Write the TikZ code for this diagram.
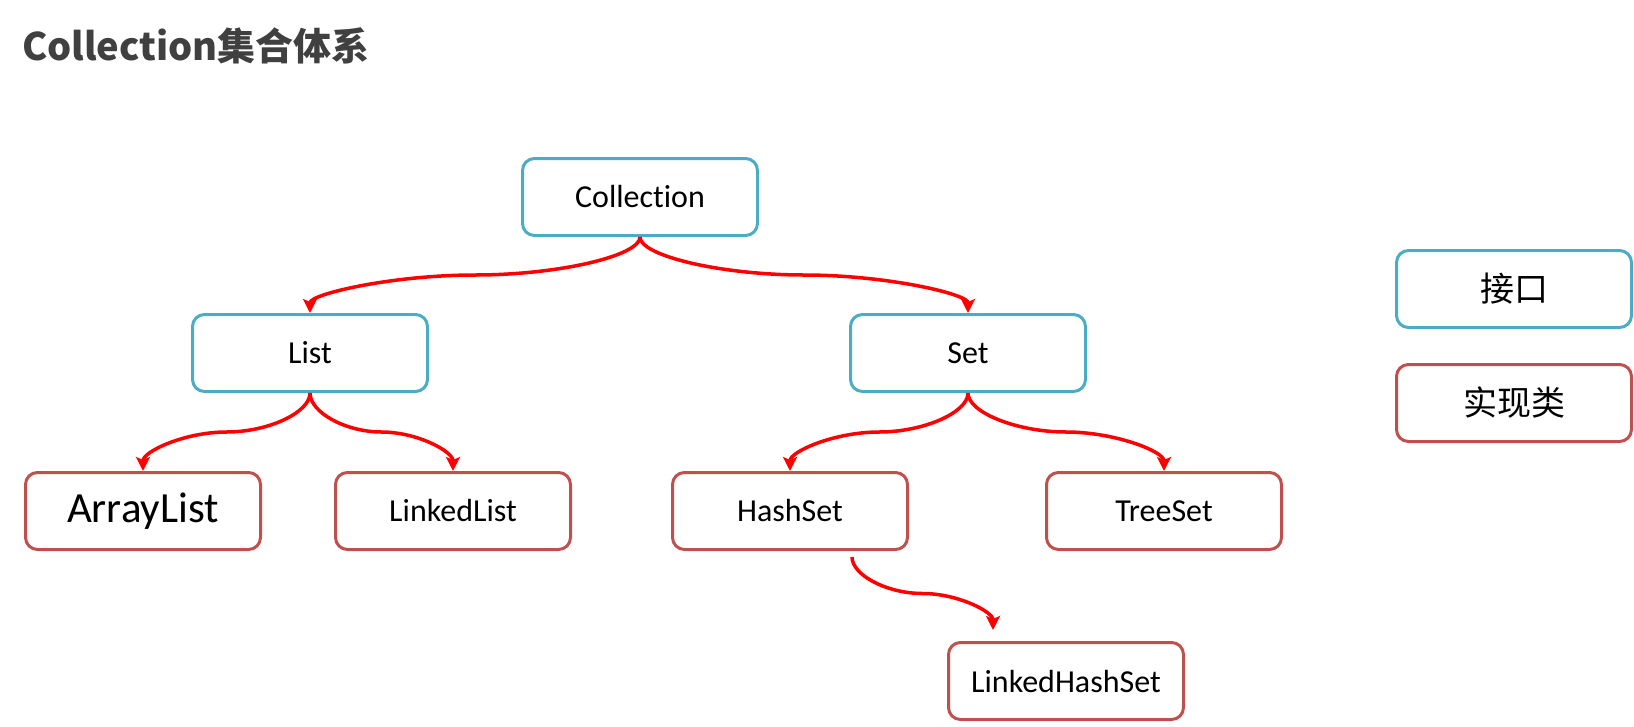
\documentclass[tikz,border=0pt]{standalone}
\usepackage{fontspec}
\setmainfont{Carlito}[Ligatures={NoCommon,NoContextual}]
\newfontfamily\cjk{Noto Sans CJK SC}
\usetikzlibrary{arrows.meta,calc}
\definecolor{ifblue}{HTML}{4BACC6}
\definecolor{imred}{HTML}{C0504D}
\definecolor{arrred}{HTML}{FF0000}
\definecolor{titlegray}{HTML}{404040}
\begin{document}
\begin{tikzpicture}[x=1pt,y=-1pt,
  box/.style={draw, line width=3pt, rounded corners=12pt, fill=white,
    minimum width=235pt, minimum height=77pt, inner sep=0pt,
    font=\fontsize{32}{38}\selectfont, text=black},
  iface/.style={box, draw=ifblue},
  impl/.style={box, draw=imred},
  legtext/.style={font=\cjk\fontsize{34}{40}\selectfont},
  conn/.style={to path={let \p1=(\tikztostart), \p2=(\tikztotarget) in
    .. controls (\x1,{\y1+(\y2-\y1)/4}) and ({\x1+(\x2-\x1)/4},{(\y1+\y2)/2}) .. ({(\x1+\x2)/2},{(\y1+\y2)/2})
    .. controls ({\x1+3*(\x2-\x1)/4},{(\y1+\y2)/2}) and (\x2,{\y1+3*(\y2-\y1)/4}) .. (\x2,\y2)}},
  arr/.style={draw=arrred, line width=3.5pt, -{Stealth[length=14pt,width=14pt,inset=3pt]}}
]
\useasboundingbox (0,0) rectangle (1634,726);
\node[anchor=base west, inner sep=0pt, text=titlegray, font=\cjk\bfseries\fontsize{38}{44}\selectfont] (title) at (22,60) {Collection集合体系};

\node[iface] (coll) at (640,197) {Collection};
\node[iface] (list) at (310,353) {List};
\node[iface] (set) at (968,353) {Set};
\node[impl, font=\fontsize{43}{50}\selectfont] (al) at (143,511) {ArrayList};
\node[impl] (ll) at (453,511) {LinkedList};
\node[impl] (hs) at (790,511) {HashSet};
\node[impl] (ts) at (1164,511) {TreeSet};
\node[impl] (lhs) at (1066,681) {LinkedHashSet};

\node[iface, legtext] (leg1) at (1514,289) {接口};
\node[impl, legtext] (leg2) at (1514,403) {实现类};

\coordinate (hsout) at ($(hs.south)+(62,6)$);
\coordinate (lhsin) at ($(lhs.north)+(-73,-11)$);

\draw[arr] (coll.south) to[conn] (list.north);
\draw[arr] (coll.south) to[conn] (set.north);
\draw[arr] (list.south) to[conn] (al.north);
\draw[arr] (list.south) to[conn] (ll.north);
\draw[arr] (set.south) to[conn] (hs.north);
\draw[arr] (set.south) to[conn] (ts.north);
\draw[arr] (hsout) to[conn] (lhsin);
\end{tikzpicture}
\end{document}
